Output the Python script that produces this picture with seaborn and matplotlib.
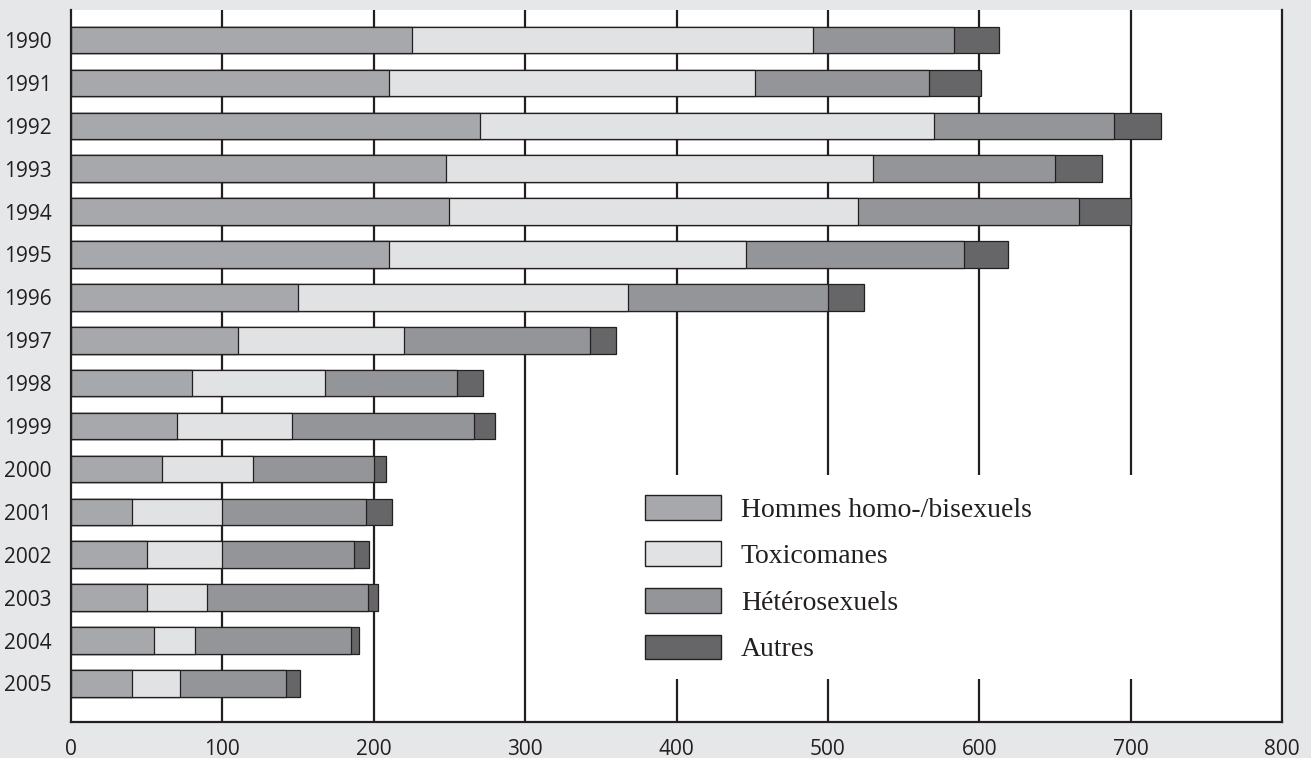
import numpy as np
import pandas as pd
import matplotlib
matplotlib.use('Agg')
import matplotlib.pyplot as plt
import seaborn as sns
from matplotlib.patches import Patch, Rectangle

years = ['1990', '1991', '1992', '1993', '1994', '1995', '1996', '1997',
         '1998', '1999', '2000', '2001', '2002', '2003', '2004', '2005']
homo = [225, 210, 270, 248, 250, 210, 150, 110, 80, 70, 60, 40, 50, 50, 55, 40]
toxico = [265, 242, 300, 282, 270, 236, 218, 110, 88, 76, 60, 60, 50, 40, 27, 32]
hetero = [93, 115, 119, 120, 146, 144, 132, 123, 87, 120, 80, 95, 87, 106, 103, 70]
autres = [30, 34, 31, 31, 34, 29, 24, 17, 17, 14, 8, 17, 10, 7, 5, 9]

labels = ['Hommes homo-/bisexuels', 'Toxicomanes', 'Hétérosexuels', 'Autres']
colors = ['#a7a8ab', '#e1e2e3', '#949598', '#666668']
edge = '#231f20'
bg = '#e6e7e8'

df = pd.DataFrame({'year': years, 'homo': homo, 'toxico': toxico,
                   'hetero': hetero, 'autres': autres})
cols = ['homo', 'toxico', 'hetero', 'autres']
cum = df[cols].cumsum(axis=1)
cum['year'] = df['year']

sns.set_style('white')
plt.rcParams['font.family'] = ['Open Sans', 'DejaVu Sans']

fig = plt.figure(figsize=(13.11, 7.58), dpi=100, facecolor=bg)
ax = fig.add_axes([71 / 1311, 36 / 758, 1211 / 1311, 712 / 758])
ax.set_facecolor('white')

# gridlines behind the bars
for x in range(100, 800, 100):
    ax.axvline(x, color=edge, lw=1.6, zorder=0)

# white panel behind the legend hides the gridlines there
ax.add_patch(Rectangle((0.45, 0.06), 0.55, 0.287, transform=ax.transAxes,
                       facecolor='white', edgecolor='none', zorder=1))

# draw the cumulative totals from the largest down so each segment shows
for col, c in zip(reversed(cols), reversed(colors)):
    sns.barplot(data=cum, x=col, y='year', order=years, orient='h',
                color=c, edgecolor=edge, linewidth=0.9, width=0.62,
                saturation=1, ax=ax, zorder=2)

ax.set_xlim(0, 800)
ax.set_ylim(15.9, -0.7)
ax.set_xticks(range(0, 801, 100))
ax.set_xlabel('')
ax.set_ylabel('')
ax.tick_params(axis='both', length=0, labelsize=15, colors='#231f20')
ax.tick_params(axis='y', pad=14)
ax.tick_params(axis='x', pad=12)

for side in ['left', 'bottom', 'right']:
    ax.spines[side].set_visible(True)
    ax.spines[side].set_color(edge)
    ax.spines[side].set_linewidth(1.6)
ax.spines['top'].set_visible(False)

handles = [Patch(facecolor=c, edgecolor=edge, linewidth=1.0) for c in colors]
leg = ax.legend(handles, labels, loc='upper left', bbox_to_anchor=(0.474, 0.319),
                frameon=False, prop={'family': 'Liberation Serif', 'size': 20},
                handlelength=2.73, handleheight=1.0, handletextpad=0.72,
                labelspacing=0.67, borderpad=0, borderaxespad=0)
for t in leg.get_texts():
    t.set_color('#231f20')

fig.savefig('out.png', dpi=100, facecolor=bg)
